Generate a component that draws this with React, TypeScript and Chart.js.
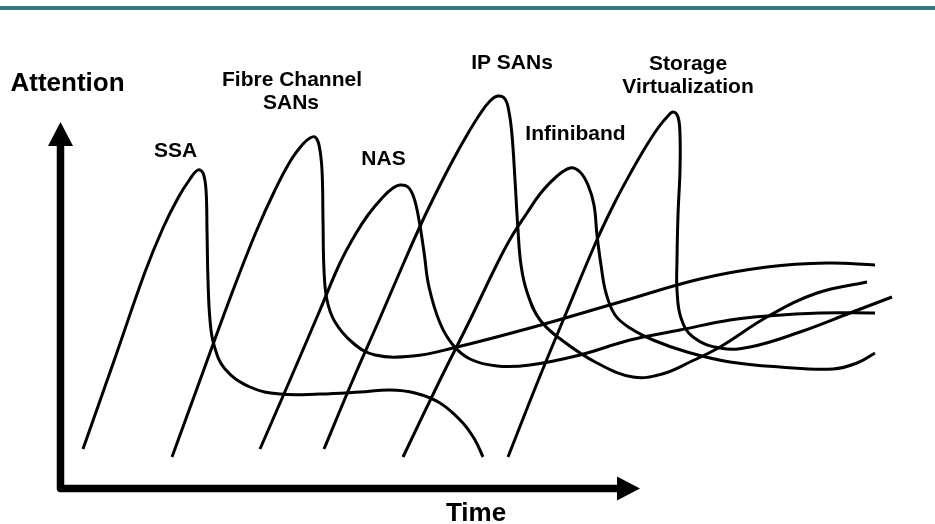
import React, { useEffect, useRef } from "react";
import { Chart, registerables } from "chart.js";

Chart.register(...registerables);

// Diagram space: x = time (0..935), y = attention measured downward (0..524)
type P = [number, number];

const SSA: P[] = [
  [83, 449], [115, 358], [145, 272], [163, 228], [178, 198], [190, 179], [198, 170], [203, 173],
  [206, 190], [207, 230], [208, 280], [210, 320], [214, 345], [225, 369], [250, 387], [280, 394],
  [320, 394], [360, 392], [390, 390], [415, 393], [440, 403], [462, 422], [475, 440], [483, 457],
];

const FIBRE_CHANNEL: P[] = [
  [172, 457], [203, 372], [232, 293], [256, 232], [275, 190], [291, 160], [303, 144], [310, 138],
  [315, 137], [319, 145], [322, 170], [323, 220], [324, 270], [327, 300], [335, 322], [353, 343],
  [375, 355], [413, 356], [453, 348], [530, 328], [620, 302], [700, 279], [767, 267], [827, 263],
  [875, 265],
];

const NAS: P[] = [
  [260, 449], [290, 380], [320, 310], [340, 263], [355, 235], [368, 215], [383, 197], [393, 188],
  [400, 185], [408, 187], [414, 198], [419, 220], [424, 252], [429, 287], [440, 323], [453, 345],
  [470, 359], [497, 366], [530, 365], [580, 355], [630, 340], [680, 330], [730, 320], [767, 316],
  [820, 313], [875, 313],
];

const IP_SANS: P[] = [
  [324, 449], [352, 382], [380, 318], [405, 260], [422, 222], [438, 189], [453, 160], [467, 135],
  [480, 114], [490, 101], [498, 96], [505, 99], [509, 112], [512, 135], [515, 180], [518, 230],
  [521, 265], [527, 292], [540, 320], [563, 341], [597, 363], [633, 377], [662, 374], [690, 362],
  [720, 347], [767, 317], [817, 293], [867, 282],
];

const INFINIBAND: P[] = [
  [403, 457], [440, 380], [470, 320], [498, 262], [512, 236], [527, 213], [540, 194], [555, 178],
  [570, 168], [580, 172], [588, 185], [594, 205], [597, 235], [601, 265], [606, 293], [615, 315],
  [630, 328], [653, 340], [687, 352], [730, 362], [780, 367], [833, 369], [857, 363], [875, 353],
];

const STORAGE_VIRT: P[] = [
  [508, 457], [538, 381], [567, 311], [596, 242], [614, 204], [630, 174], [645, 148], [658, 128],
  [667, 117], [673, 112], [678, 117], [680, 135], [680, 170], [678, 215], [677, 260], [677, 290],
  [681, 318], [693, 337], [720, 348], [750, 347], [800, 332], [850, 313], [892, 297],
];

const CURVES: P[][] = [SSA, FIBRE_CHANNEL, NAS, IP_SANS, INFINIBAND, STORAGE_VIRT];

// Axis origin and arrow ends (in diagram space)
const AXIS_ORIGIN: P = [60.5, 488.5];
const TIME_AXIS_END = 640;
const ATTENTION_AXIS_END = 122;

// Annotation texts: [text, x, baseline y, size]
const LABELS: [string, number, number, number][] = [
  ["Attention", 67.5, 91, 26],
  ["SSA", 175.5, 157, 21],
  ["Fibre Channel", 292, 86, 21],
  ["SANs", 291, 109, 21],
  ["NAS", 383.5, 165, 21],
  ["IP SANs", 512, 69, 21],
  ["Infiniband", 575.5, 140, 21],
  ["Storage", 688, 70, 21],
  ["Virtualization", 688, 93, 21],
  ["Time", 476, 521, 26],
];

const decorPlugin = {
  id: "decor",
  afterDatasetsDraw(chart: any) {
    const { ctx, scales } = chart;
    const xs = scales.x;
    const ys = scales.y;
    const px = (v: number) => xs.getPixelForValue(v);
    const py = (v: number) => ys.getPixelForValue(v);
    ctx.save();
    // top rule
    ctx.fillStyle = "#2F7B7F";
    ctx.fillRect(0, 6, chart.width, 4);

    // axes
    const ox = px(AXIS_ORIGIN[0]);
    const oy = py(AXIS_ORIGIN[1]);
    const tx = px(TIME_AXIS_END);
    const ty = py(ATTENTION_AXIS_END);
    ctx.strokeStyle = "#000";
    ctx.fillStyle = "#000";
    ctx.lineWidth = 7.5;
    ctx.lineJoin = "round";
    ctx.lineCap = "butt";
    ctx.beginPath();
    ctx.moveTo(ox, ty + 22);
    ctx.lineTo(ox, oy);
    ctx.lineTo(tx - 21, oy);
    ctx.stroke();
    // arrow heads
    ctx.beginPath();
    ctx.moveTo(ox, ty);
    ctx.lineTo(ox - 12.5, ty + 24);
    ctx.lineTo(ox + 12.5, ty + 24);
    ctx.closePath();
    ctx.fill();
    ctx.beginPath();
    ctx.moveTo(tx, oy);
    ctx.lineTo(tx - 23, oy - 12);
    ctx.lineTo(tx - 23, oy + 12);
    ctx.closePath();
    ctx.fill();

    // labels
    ctx.textAlign = "center";
    ctx.textBaseline = "alphabetic";
    for (const [text, x, y, size] of LABELS) {
      ctx.font = `bold ${size}px 'Liberation Sans', Arial, sans-serif`;
      ctx.fillText(text, px(x), py(y));
    }
    ctx.restore();
  },
};

export default function App() {
  const ref = useRef<HTMLCanvasElement | null>(null);
  useEffect(() => {
    if (!ref.current) return;
    const chart = new Chart(ref.current, {
      type: "line",
      data: {
        datasets: CURVES.map((c) => ({
          data: c.map(([x, y]) => ({ x, y })),
          borderColor: "#000",
          borderWidth: 3,
          pointRadius: 0,
          tension: 0.4,
          fill: false,
        })),
      },
      options: {
        animation: false,
        responsive: false,
        devicePixelRatio: 1,
        layout: { padding: 0 },
        scales: {
          x: { type: "linear", min: 0, max: 935, display: false },
          y: { type: "linear", min: 0, max: 524, reverse: true, display: false },
        },
        plugins: {
          legend: { display: false },
          tooltip: { enabled: false },
        },
      },
      plugins: [decorPlugin],
    });
    return () => chart.destroy();
  }, []);
  return (
    <div style={{ position: "fixed", left: 0, top: 0, width: 935, height: 524, background: "#fff" }}>
      <canvas ref={ref} width={935} height={524} style={{ display: "block" }} />
    </div>
  );
}
